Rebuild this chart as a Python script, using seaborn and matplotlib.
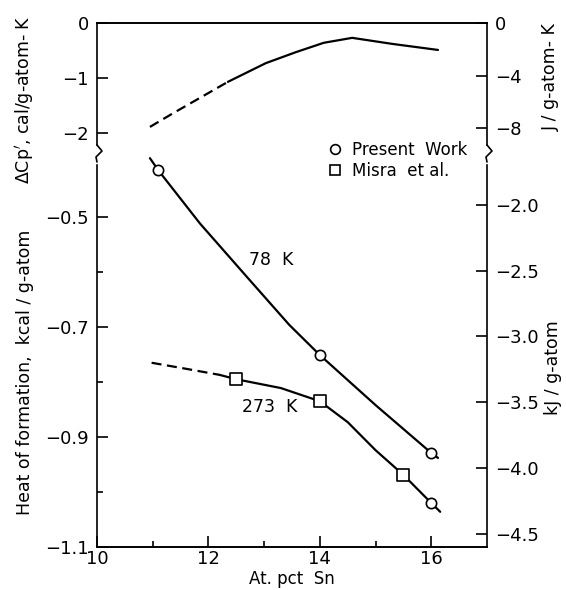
import matplotlib
matplotlib.use('Agg')
import matplotlib.pyplot as plt
import seaborn as sns
from matplotlib.lines import Line2D

# at. pct Sn vs delta Cp' (cal/g-atom K)
cp_x_dash = [10.95, 11.35, 11.85, 12.35]
cp_y_dash = [-1.89, -1.65, -1.36, -1.07]
cp_x = [12.35, 13.03, 13.57, 14.07, 14.58, 15.3, 16.12]
cp_y = [-1.07, -0.73, -0.53, -0.36, -0.27, -0.38, -0.49]

# heat of formation (kcal/g-atom), 78 K
h78_x = [10.95, 11.1, 11.85, 12.7, 13.45, 14.0, 15.0, 16.0, 16.12]
h78_y = [-0.393, -0.415, -0.512, -0.610, -0.696, -0.751, -0.842, -0.929, -0.938]
pw78_x = [11.1, 14.0, 16.0]
pw78_y = [-0.415, -0.751, -0.929]

# heat of formation, 273 K
h273_x_dash = [10.98, 11.6, 12.2]
h273_y_dash = [-0.765, -0.776, -0.787]
h273_x = [12.2, 12.5, 13.3, 14.0, 14.5, 15.0, 15.5, 16.0, 16.16]
h273_y = [-0.787, -0.795, -0.811, -0.835, -0.873, -0.924, -0.969, -1.020, -1.036]
pw273_x = [16.0]
pw273_y = [-1.020]
misra_x = [12.5, 14.0, 15.5]
misra_y = [-0.795, -0.835, -0.969]

CAL_TO_J = 4.184

sns.set_style('ticks')
plt.rcParams['font.family'] = ['DejaVu Sans']
plt.rcParams['axes.linewidth'] = 1.2
for k in ('text.color', 'axes.labelcolor', 'xtick.color', 'ytick.color', 'axes.edgecolor'):
    plt.rcParams[k] = 'black'

W, H = 566, 590
fig = plt.figure(figsize=(W / 100, H / 100), dpi=100)

left, right = 97 / W, 487 / W
top, brk, bot = 1 - 23 / H, 1 - 153 / H, 1 - 547 / H

ax_top = fig.add_axes([left, brk, right - left, top - brk])
ax = fig.add_axes([left, bot, right - left, brk - bot], sharex=ax_top)

top_lim = (-2.364, 0)
bot_lim = (-1.1, -0.3836)

lw = 1.6
sns.lineplot(x=cp_x_dash, y=cp_y_dash, ax=ax_top, color='black', lw=lw, sort=False)
ax_top.lines[-1].set_dashes((4.5, 2.5))
sns.lineplot(x=cp_x, y=cp_y, ax=ax_top, color='black', lw=lw, sort=False)

sns.lineplot(x=h78_x, y=h78_y, ax=ax, color='black', lw=lw, sort=False)
sns.lineplot(x=h273_x_dash, y=h273_y_dash, ax=ax, color='black', lw=lw, sort=False)
ax.lines[-1].set_dashes((4.5, 2.5))
sns.lineplot(x=h273_x, y=h273_y, ax=ax, color='black', lw=lw, sort=False)

sns.scatterplot(x=pw78_x + pw273_x, y=pw78_y + pw273_y, ax=ax, marker='o', s=55,
                facecolor='white', edgecolor='black', linewidth=1.2, zorder=3)
sns.scatterplot(x=misra_x, y=misra_y, ax=ax, marker='s', s=65,
                facecolor='white', edgecolor='black', linewidth=1.2, zorder=3)

ax.text(12.72, -0.578, '78  K', fontsize=12.5, va='center', ha='left')
ax.text(12.6, -0.845, '273  K', fontsize=12.5, va='center', ha='left')

# axes limits and ticks
ax.set_xlim(10, 17)
ax.set_xticks([10, 12, 14, 16])
ax.set_xticks([11, 13, 15], minor=True)
ax_top.set_ylim(*top_lim)
ax_top.set_yticks([0, -1, -2])
ax.set_ylim(*bot_lim)
ax.set_yticks([-0.5, -0.7, -0.9, -1.1])
ax.set_yticklabels(['\u22120.5', '\u22120.7', '\u22120.9', '\u22121.1'])
ax.set_yticks([-0.6, -0.8, -1.0], minor=True)

for a in (ax_top, ax):
    a.tick_params(direction='in', length=8, width=1.2, labelsize=13, pad=6)
    a.tick_params(which='minor', direction='in', length=4, width=1.2)
    a.spines['right'].set_visible(False)
    a.set_xlabel('')
    a.set_ylabel('')
ax.tick_params(axis='x', pad=2)
ax_top.tick_params(axis='x', which='both', bottom=False, labelbottom=False)
ax_top.spines['bottom'].set_visible(False)
ax.spines['top'].set_visible(False)
ax_top.spines['left'].set_bounds(-2.22, 0)
ax.spines['left'].set_bounds(-1.1, -0.405)

# right hand SI axes
axr_top = ax_top.twinx()
axr_top.set_ylim(top_lim[0] * CAL_TO_J, top_lim[1] * CAL_TO_J)
axr_top.set_yticks([0, -4, -8])
axr = ax.twinx()
axr.set_ylim(bot_lim[0] * CAL_TO_J, bot_lim[1] * CAL_TO_J)
axr.set_yticks([-2.0, -2.5, -3.0, -3.5, -4.0, -4.5])
axr.set_yticklabels(['\u22122.0', '\u22122.5', '\u22123.0', '\u22123.5', '\u22124.0', '\u22124.5'])
for a in (axr_top, axr):
    a.tick_params(direction='in', length=8, width=1.2, labelsize=13, pad=6)
    for s in ('left', 'top', 'bottom'):
        a.spines[s].set_visible(False)
axr_top.spines['top'].set_visible(True)
axr.spines['bottom'].set_visible(True)
axr_top.spines['right'].set_bounds(-2.22 * CAL_TO_J, 0)
axr.spines['right'].set_bounds(-1.1 * CAL_TO_J, -0.405 * CAL_TO_J)

# zigzag break marks on both vertical axes
def zig(xpx):
    xs = [xpx, xpx + 5, xpx - 1, xpx]
    ys = [145, 151, 157, 162]
    fig.add_artist(Line2D([v / W for v in xs], [1 - v / H for v in ys],
                          color='black', lw=1.2, transform=fig.transFigure))

zig(97)
zig(487)

# legend
handles = [Line2D([], [], marker='o', ls='none', mfc='white', mec='black', mew=1.2, ms=7),
           Line2D([], [], marker='s', ls='none', mfc='white', mec='black', mew=1.2, ms=7)]
fig.legend(handles, ['Present  Work', 'Misra  et al.'], loc='upper left',
           bbox_to_anchor=(327 / W, 1 - 141 / H), frameon=False, fontsize=12,
           handlelength=1.0, handletextpad=0.5, labelspacing=0.15, borderpad=0,
           borderaxespad=0)

# axis titles
fig.text(25 / W, 1 - 100 / H, "\u0394Cp$'$, cal/g-atom- K", rotation=90,
         ha='center', va='center', fontsize=12.5)
fig.text(25 / W, 1 - 372 / H, 'Heat of formation,  kcal / g-atom', rotation=90,
         ha='center', va='center', fontsize=12.5)
fig.text(551 / W, 1 - 77 / H, 'J / g-atom- K', rotation=90,
         ha='center', va='center', fontsize=12.5)
fig.text(553 / W, 1 - 368 / H, 'kJ / g-atom', rotation=90,
         ha='center', va='center', fontsize=12.5)
fig.text(292 / W, 1 - 579 / H, 'At. pct  Sn', ha='center', va='center', fontsize=12)

fig.savefig('out.png', dpi=100)
